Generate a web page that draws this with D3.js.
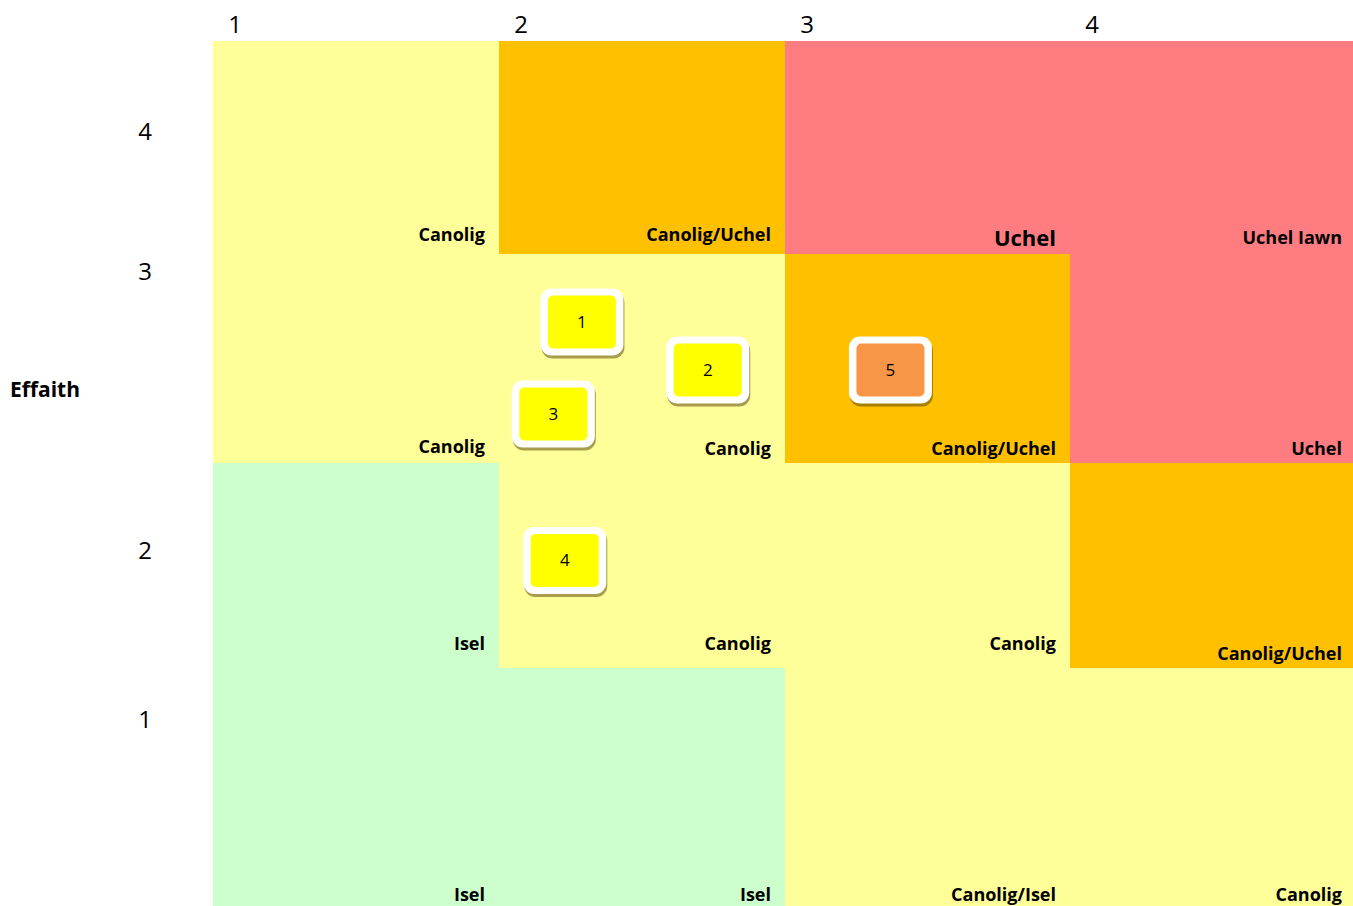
<!DOCTYPE html>
<html>
<head>
<meta charset="utf-8">
<script src="https://cdn.jsdelivr.net/npm/d3@7"></script>
<style>
  html, body { margin: 0; padding: 0; background: #fff; }
  svg { display: block; font-family: "Open Sans", sans-serif; }
</style>
</head>
<body>
<svg id="chart" width="1353" height="906"></svg>
<script>
// Risk matrix: likelihood (columns) against impact (rows)
const likelihoodTicks = [1, 2, 3, 4];
const impactTicks = [1, 2, 3, 4];

// Rating for each cell, one row per impact level (1 at the bottom)
const ratingsImpact1 = ["Isel", "Isel", "Canolig/Isel", "Canolig"];
const ratingsImpact2 = ["Isel", "Canolig", "Canolig", "Canolig/Uchel"];
const ratingsImpact3 = ["Canolig", "Canolig", "Canolig/Uchel", "Uchel"];
const ratingsImpact4 = ["Canolig", "Canolig/Uchel", "Uchel", "Uchel Iawn"];
const ratings = [ratingsImpact1, ratingsImpact2, ratingsImpact3, ratingsImpact4];

// Plotted risks
const riskIds = [1, 2, 3, 4, 5];
const riskLikelihood = [1.79, 2.23, 1.69, 1.73, 2.87];
const riskImpact = [3.17, 2.94, 2.73, 2.02, 2.94];
const riskRating = ["Canolig", "Canolig", "Canolig", "Canolig", "Canolig/Uchel"];

const yAxisTitle = "Effaith";

// ---- colours
const cellColour = {
  "Isel": "#CCFFCC",
  "Canolig/Isel": "#FFFF99",
  "Canolig": "#FFFF99",
  "Canolig/Uchel": "#FFC000",
  "Uchel": "#FF7C80",
  "Uchel Iawn": "#FF7C80"
};
const riskColour = {
  "Canolig": "#FFFF00",
  "Canolig/Uchel": "#F79646"
};

const svg = d3.select("#chart");

// ---- scales (rows and columns are slightly uneven)
const x = d3.scaleLinear().domain([0.5, 1.5, 2.5, 3.5, 4.5]).range([213, 499, 785, 1070, 1353]);
const y = d3.scaleLinear().domain([0.5, 1.5, 2.5, 3.5, 4.5]).range([906, 667, 462, 253, 41]);

// ---- cells
const cells = [];
ratings.forEach((row, i) => {
  row.forEach((r, j) => {
    cells.push({ impact: impactTicks[i], likelihood: likelihoodTicks[j], rating: r });
  });
});

const gCells = svg.append("g");
gCells.selectAll("rect")
  .data(cells)
  .join("rect")
  .attr("x", d => x(d.likelihood - 0.5))
  .attr("y", d => y(d.impact + 0.5))
  .attr("width", d => x(d.likelihood + 0.5) - x(d.likelihood - 0.5) + 0.5)
  .attr("height", d => y(d.impact - 0.5) - y(d.impact + 0.5) + 0.5)
  .attr("fill", d => cellColour[d.rating])
  .attr("shape-rendering", "crispEdges");

// baseline offset from the bottom of each cell, per row, with a few exceptions
const rowBaseline = { 1: 5, 2: 17, 3: 7, 4: 12 };
function labelLift(d) {
  if (d.impact === 2 && d.likelihood === 4) return 7;
  if (d.impact === 3 && d.likelihood === 1) return 9;
  if (d.impact === 4 && d.likelihood === 3) return 7;
  if (d.impact === 4 && d.likelihood === 4) return 9;
  return rowBaseline[d.impact];
}
function labelRight(d) {
  return d.likelihood === 4 ? 11 : 14;
}

gCells.selectAll("text")
  .data(cells)
  .join("text")
  .attr("x", d => x(d.likelihood + 0.5) - labelRight(d))
  .attr("y", d => y(d.impact - 0.5) - labelLift(d))
  .attr("text-anchor", "end")
  .attr("font-weight", "bold")
  .attr("font-size", d => (d.impact === 4 && d.likelihood === 3) ? 22 : 18)
  .attr("fill", "#000")
  .text(d => d.rating);

// ---- axis labels
const gTop = svg.append("g");
gTop.selectAll("text")
  .data(likelihoodTicks)
  .join("text")
  .attr("x", d => x(d - 0.5) + 22)
  .attr("y", 33)
  .attr("text-anchor", "middle")
  .attr("font-size", 24)
  .attr("fill", "#000")
  .text(d => d);

// vertical placement of the impact numbers, in impact units
const impactLabelAt = { 1: 1.28, 2: 2.07, 3: 3.41, 4: 4.075 };
const gLeft = svg.append("g");
gLeft.selectAll("text")
  .data(impactTicks)
  .join("text")
  .attr("x", 145)
  .attr("y", d => y(impactLabelAt[d]))
  .attr("dy", "0.35em")
  .attr("text-anchor", "middle")
  .attr("font-size", 24)
  .attr("fill", "#000")
  .text(d => d);

svg.append("text")
  .attr("x", 10)
  .attr("y", 397)
  .attr("font-size", 21)
  .attr("font-weight", "bold")
  .attr("fill", "#000")
  .text(yAxisTitle);

// ---- risk markers
const risks = riskIds.map((id, i) => ({
  id, lx: riskLikelihood[i], iy: riskImpact[i], rating: riskRating[i]
}));

const outerW = 83, outerH = 67, innerW = 68, innerH = 53;
const gRisk = svg.append("g").selectAll("g")
  .data(risks)
  .join("g")
  .attr("transform", d => `translate(${x(d.lx)},${y(d.iy)})`);

gRisk.append("rect")
  .attr("x", -outerW / 2 + 1)
  .attr("y", -outerH / 2 + 3)
  .attr("width", outerW)
  .attr("height", outerH)
  .attr("rx", 11)
  .attr("fill", "rgba(80,60,0,0.5)");

gRisk.append("rect")
  .attr("x", -outerW / 2)
  .attr("y", -outerH / 2)
  .attr("width", outerW)
  .attr("height", outerH)
  .attr("rx", 11)
  .attr("fill", "#fff");

gRisk.append("rect")
  .attr("x", -innerW / 2)
  .attr("y", -innerH / 2)
  .attr("width", innerW)
  .attr("height", innerH)
  .attr("rx", 5)
  .attr("fill", d => riskColour[d.rating]);

gRisk.append("text")
  .attr("text-anchor", "middle")
  .attr("dy", "0.35em")
  .attr("font-size", 17)
  .attr("fill", "#000")
  .text(d => d.id);
</script>
</body>
</html>
